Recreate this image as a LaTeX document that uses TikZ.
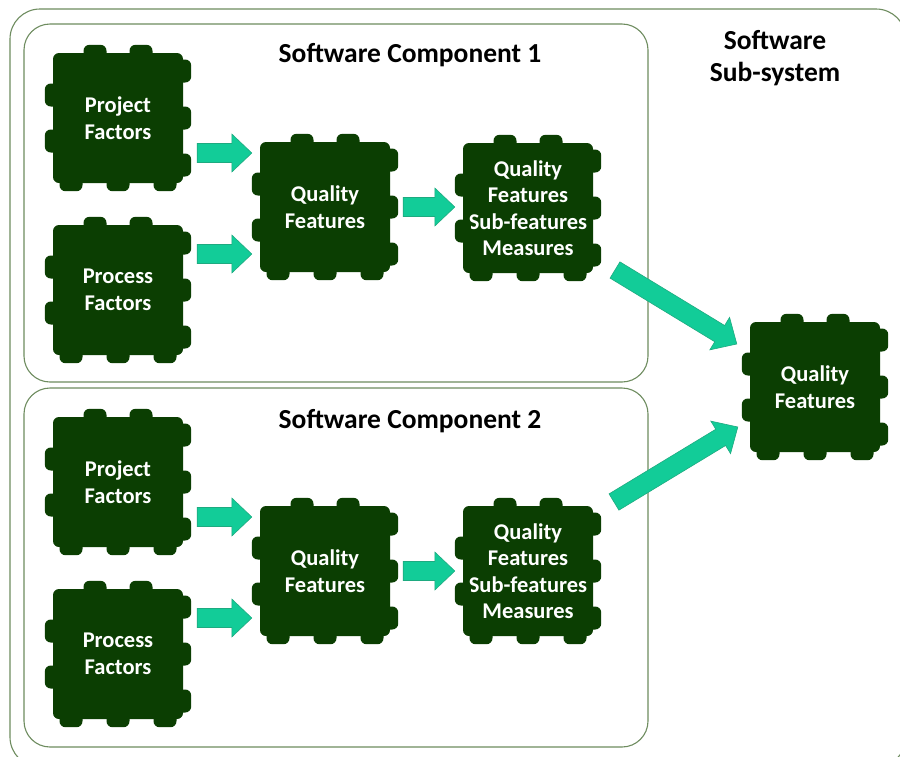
\documentclass[tikz,border=0pt]{standalone}
\usepackage{fontspec}
\setmainfont{Carlito}
\usetikzlibrary{calc}
\definecolor{pcol}{RGB}{11,62,2}
\definecolor{acol}{RGB}{18,204,152}
\definecolor{aline}{RGB}{30,170,128}
\definecolor{bcol}{RGB}{110,140,95}
\tikzset{
 piece/.style={fill=pcol, minimum width=130pt, minimum height=130pt, rounded corners=6pt, inner sep=0pt, text=white, font=\fontsize{22.5}{26.5}\selectfont\bfseries, align=center},
 blk/.style={fill=acol, draw=aline, line width=0.6pt, line join=miter},
 grp/.style={draw=bcol, line width=1.1pt, rounded corners=26pt},
 ttl/.style={font=\fontsize{27.5}{32}\selectfont\bfseries, align=center, text=black},
 bump/.style={fill=pcol, rounded corners=6pt},
}
\newcommand\bumps[1]{%
 \foreach \q in {-23,23}{%
  \fill[bump] ($(#1.north)+(\q-11.5,-8)$) rectangle ($(#1.north)+(\q+11.5,8)$);
  \fill[bump] ($(#1.west)+(-8,\q-11.5)$) rectangle ($(#1.west)+(8,\q+11.5)$);}%
 \foreach \q in {-47,0,47}{%
  \fill[bump] ($(#1.east)+(-8,\q-11.5)$) rectangle ($(#1.east)+(8,\q+11.5)$);
  \fill[bump] ($(#1.south)+(\q-11.5,-8)$) rectangle ($(#1.south)+(\q+11.5,8)$);}}
\newcommand\blockarrow[2]{%
 \coordinate (ba-h) at ($(#2)!20pt!(#1)$);
 \draw[blk] ($(#1)!9.5pt!90:(#2)$) -- ($(ba-h)!9.5pt!-90:(#1)$) -- ($(ba-h)!19pt!-90:(#1)$) -- (#2)
   -- ($(ba-h)!19pt!90:(#1)$) -- ($(ba-h)!9.5pt!90:(#1)$) -- ($(#1)!9.5pt!-90:(#2)$) -- cycle;}
\begin{document}
\begin{tikzpicture}[x=1pt,y=-1pt]
\useasboundingbox (0,0) rectangle (900,756);
\clip (0,0) rectangle (900,756);
\fill[white] (0,0) rectangle (900,756);
% containers
\draw[grp, rounded corners=30pt] (10,9) rectangle (906,767);
\draw[grp] (24,24) rectangle (648,382);
\draw[grp] (24,388) rectangle (648,747);
\node[ttl] (t1) at (410,55) {Software Component 1};
\node[ttl] (t2) at (410,421) {Software Component 2};
\node[ttl] (t3) at (775,58) {Software\\Sub-system};
% pieces
\node[piece] (pf1) at (118,118) {Project\\Factors}; \bumps{pf1}
\node[piece] (pr1) at (118,290) {Process\\Factors}; \bumps{pr1}
\node[piece] (qf1) at (325,207) {Quality\\Features}; \bumps{qf1}
\node[piece] (qs1) at (528,208) {Quality\\Features\\Sub-features\\Measures}; \bumps{qs1}
\node[piece] (pf2) at (118,482) {Project\\Factors}; \bumps{pf2}
\node[piece] (pr2) at (118,654) {Process\\Factors}; \bumps{pr2}
\node[piece] (qf2) at (325,571) {Quality\\Features}; \bumps{qf2}
\node[piece] (qs2) at (528,571) {Quality\\Features\\Sub-features\\Measures}; \bumps{qs2}
\node[piece] (fq) at (815,387) {Quality\\Features}; \bumps{fq}
% arrow endpoints
\coordinate (a1s) at ($(pf1.east)+(14,35)$);
\coordinate (a1e) at ($(qf1.west |- pf1.east)+(-8,35)$);
\coordinate (a2s) at ($(pr1.east)+(14,-36)$);
\coordinate (a2e) at ($(qf1.west |- pr1.east)+(-8,-36)$);
\coordinate (a3s) at ($(qf1.east)+(13,0)$);
\coordinate (a3e) at ($(qs1.west |- qf1.east)+(-8,0)$);
\coordinate (b1s) at ($(pf2.east)+(14,35)$);
\coordinate (b1e) at ($(qf2.west |- pf2.east)+(-8,35)$);
\coordinate (b2s) at ($(pr2.east)+(14,-36)$);
\coordinate (b2e) at ($(qf2.west |- pr2.east)+(-8,-36)$);
\coordinate (b3s) at ($(qf2.east)+(13,0)$);
\coordinate (b3e) at ($(qs2.west |- qf2.east)+(-8,0)$);
\coordinate (c1s) at ($(qs1.center)+(87,62)$);
\coordinate (c1e) at ($(fq.west)+(-13,-43)$);
\coordinate (c2s) at ($(qs2.center)+(86,-69)$);
\coordinate (c2e) at ($(fq.west)+(-12,40)$);
\blockarrow{a1s}{a1e}
\blockarrow{a2s}{a2e}
\blockarrow{a3s}{a3e}
\blockarrow{b1s}{b1e}
\blockarrow{b2s}{b2e}
\blockarrow{b3s}{b3e}
\blockarrow{c1s}{c1e}
\blockarrow{c2s}{c2e}
\end{tikzpicture}
\end{document}
